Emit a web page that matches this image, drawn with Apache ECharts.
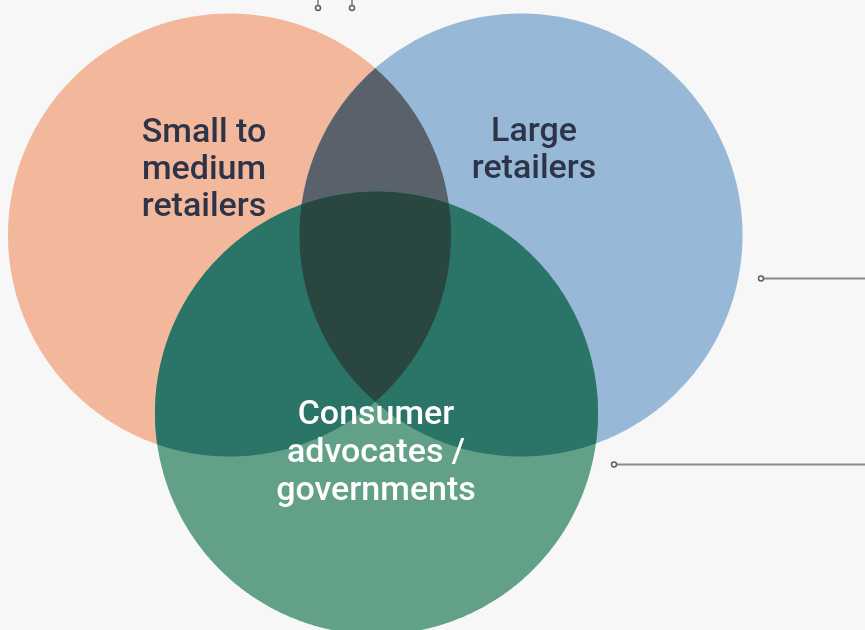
<!DOCTYPE html>
<html>
<head>
<meta charset="utf-8">
<script src="https://cdn.jsdelivr.net/npm/echarts@6/dist/echarts.min.js"></script>
<style>
html,body{margin:0;padding:0;background:#f7f7f7;}
#main{width:865px;height:630px;}
</style>
</head>
<body>
<div id="main"></div>
<script>
// Venn sets: centre (x, y) and radius in chart units
var setNames = ['Small to medium retailers', 'Large retailers', 'Consumer advocates / governments'];
var setLabels = ['Small to\nmedium\nretailers', 'Large\nretailers', 'Consumer\nadvocates /\ngovernments'];
var centerX = [229.5, 521, 376.5];
var centerY = [235, 235, 413];
var radius = [221.5, 221.5, 221.5];
var labelX = [204, 534, 376];
var labelY = [170, 151, 453];
// regions: which sets intersect
var regions = [[0], [1], [0, 1], [2], [0, 2], [1, 2], [0, 1, 2]];
var regionColors = ['#F3B79B', '#97B9D7', '#59616B', '#62A087', '#2A7468', '#2A7468', '#2A4640'];
var labelColors = ['#2E3447', '#2E3447', '#FFFFFF'];

function circlePoly(cx, cy, r, n) {
  var pts = [];
  for (var i = 0; i < n; i++) {
    var a = 2 * Math.PI * i / n;
    pts.push([cx + r * Math.cos(a), cy + r * Math.sin(a)]);
  }
  return pts;
}
function clipPoly(subject, clipper) {
  var out = subject;
  var area = 0;
  for (var k = 0; k < clipper.length; k++) {
    var p = clipper[k], q = clipper[(k + 1) % clipper.length];
    area += p[0] * q[1] - q[0] * p[1];
  }
  var sgn = area > 0 ? 1 : -1;
  for (var i = 0; i < clipper.length; i++) {
    var A = clipper[i], B = clipper[(i + 1) % clipper.length];
    var input = out; out = [];
    if (!input.length) break;
    var inside = function (P) {
      return sgn * ((B[0] - A[0]) * (P[1] - A[1]) - (B[1] - A[1]) * (P[0] - A[0])) >= 0;
    };
    var inter = function (P, Q) {
      var x1 = P[0], y1 = P[1], x2 = Q[0], y2 = Q[1];
      var x3 = A[0], y3 = A[1], x4 = B[0], y4 = B[1];
      var den = (x1 - x2) * (y3 - y4) - (y1 - y2) * (x3 - x4);
      var t = ((x1 - x3) * (y3 - y4) - (y1 - y3) * (x3 - x4)) / den;
      return [x1 + t * (x2 - x1), y1 + t * (y2 - y1)];
    };
    for (var j = 0; j < input.length; j++) {
      var cur = input[j], prev = input[(j + input.length - 1) % input.length];
      if (inside(cur)) {
        if (!inside(prev)) out.push(inter(prev, cur));
        out.push(cur);
      } else if (inside(prev)) {
        out.push(inter(prev, cur));
      }
    }
  }
  return out;
}

var chart = echarts.init(document.getElementById('main'), null, {renderer: 'canvas'});

var regionData = regions.map(function (r, i) { return {value: [i], itemStyle: {color: regionColors[i]}}; });

var option = {
  backgroundColor: '#f7f7f7',
  animation: false,
  grid: {left: 0, right: 0, top: 0, bottom: 0},
  xAxis: {type: 'value', min: 0, max: 865, show: false},
  yAxis: {type: 'value', min: 0, max: 630, inverse: true, show: false},
  series: [
    {
      type: 'custom',
      coordinateSystem: 'cartesian2d',
      silent: true,
      data: regionData,
      renderItem: function (params, api) {
        var idx = api.value(0);
        var sets = regions[idx];
        var polys = sets.map(function (s) {
          var c = api.coord([centerX[s], centerY[s]]);
          var r = api.size([radius[s], 0])[0];
          return circlePoly(c[0], c[1], r, 720);
        });
        var poly = polys[0];
        for (var k = 1; k < polys.length; k++) poly = clipPoly(poly, polys[k]);
        return {
          type: 'polygon',
          shape: {points: poly},
          style: {fill: regionColors[idx]}
        };
      }
    },
    {
      type: 'scatter',
      silent: true,
      symbolSize: 0,
      itemStyle: {opacity: 1},
      data: setLabels.map(function (t, i) {
        return {
          name: setNames[i],
          value: [labelX[i], labelY[i]],
          itemStyle: {opacity: 1},
          label: {
            show: true, position: 'inside', formatter: t,
            color: labelColors[i], fontSize: 34, fontWeight: 500,
            fontFamily: 'Roboto, Liberation Sans, Arial, sans-serif',
            lineHeight: i === 2 ? 38 : 37, align: 'center', verticalAlign: 'middle',
            opacity: 1
          }
        };
      })
    }
  ],
  graphic: [
    {type: 'line', shape: {x1: 318, y1: 0, x2: 318, y2: 6}, style: {stroke: '#7d7d82', lineWidth: 1.5}},
    {type: 'circle', shape: {cx: 318, cy: 8, r: 2.5}, style: {fill: '#f7f7f7', stroke: '#5f5f66', lineWidth: 1.5}},
    {type: 'line', shape: {x1: 352, y1: 0, x2: 352, y2: 6}, style: {stroke: '#7d7d82', lineWidth: 1.5}},
    {type: 'circle', shape: {cx: 352, cy: 8, r: 2.5}, style: {fill: '#f7f7f7', stroke: '#5f5f66', lineWidth: 1.5}},
    {type: 'line', shape: {x1: 763, y1: 278.5, x2: 865, y2: 278.5}, style: {stroke: '#8a8a90', lineWidth: 2}},
    {type: 'circle', shape: {cx: 761, cy: 278.5, r: 2.5}, style: {fill: '#f7f7f7', stroke: '#5f5f66', lineWidth: 1.5}},
    {type: 'line', shape: {x1: 617, y1: 464.5, x2: 865, y2: 464.5}, style: {stroke: '#8a8a90', lineWidth: 2}},
    {type: 'circle', shape: {cx: 614, cy: 464.5, r: 2.5}, style: {fill: '#f7f7f7', stroke: '#5f5f66', lineWidth: 1.5}}
  ]
};
chart.setOption(option);
</script>
</body>
</html>
